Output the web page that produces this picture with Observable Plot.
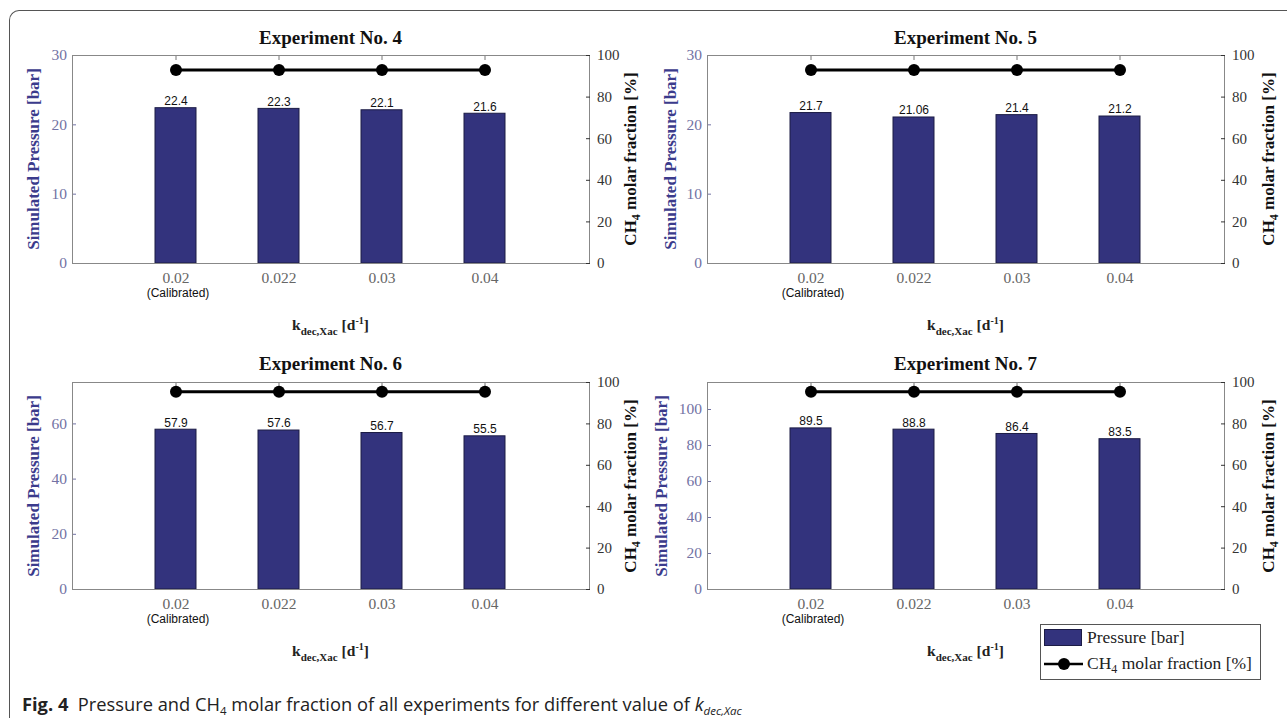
<!DOCTYPE html>
<html><head><meta charset="utf-8">
<script src="https://cdn.jsdelivr.net/npm/d3@7"></script>
<script src="https://cdn.jsdelivr.net/npm/@observablehq/plot@0.6"></script>
<style>
body{margin:0;background:#fff;}
#fig{position:relative;width:1287px;height:718px;overflow:hidden;background:#fff;}
#border{position:absolute;left:9px;top:10px;width:1400px;height:800px;border-top:1.5px solid #555;border-left:1.5px solid #555;border-top-left-radius:10px;}
.panel{position:absolute;width:640px;height:340px;}
.panel svg{position:absolute;left:0;top:0;}
.title{position:absolute;font:bold 19px "Liberation Serif",serif;color:#111;transform:translate(-50%,-50%);white-space:nowrap;line-height:22px;}
.ylab{position:absolute;font:bold 17px "Liberation Serif",serif;white-space:nowrap;transform:translate(-50%,-50%) rotate(-90deg);line-height:20px;}
.ylab.left{color:#3b3b8c;}
.ylab.right{color:#111;}
.xlab{position:absolute;font:bold 15.5px "Liberation Serif",serif;color:#222;white-space:nowrap;transform:translate(-50%,-50%);line-height:20px;}
sub,sup{line-height:0;}
.xlab sub{font-size:11px;vertical-align:-5px;}
.xlab sup{font-size:10px;vertical-align:6px;}
.ylab sub{font-size:12px;vertical-align:-4px;}
#legend{position:absolute;left:1040px;top:624px;width:219px;height:54px;border:1px solid #555;background:#fff;font:17.5px "Liberation Serif",serif;color:#222;}
#legend sub{font-size:12px;vertical-align:-4px;}
#caption{position:absolute;left:22px;top:692px;font:18.3px "Open Sans",sans-serif;color:#222;white-space:nowrap;line-height:24px;}
#caption sub{font-size:11.5px;vertical-align:-4px;}
</style></head>
<body>
<div id="fig"><div id="border"></div></div>
<script>
const categories = ["0.02", "0.022", "0.03", "0.04"];
const notes = ["(Calibrated)", "", "", ""];
const titles = ["Experiment No. 4", "Experiment No. 5", "Experiment No. 6", "Experiment No. 7"];
const pressure4 = [22.4, 22.3, 22.1, 21.6];
const pressure5 = [21.7, 21.06, 21.4, 21.2];
const pressure6 = [57.9, 57.6, 56.7, 55.5];
const pressure7 = [89.5, 88.8, 86.4, 83.5];
const labels4 = ["22.4", "22.3", "22.1", "21.6"];
const labels5 = ["21.7", "21.06", "21.4", "21.2"];
const labels6 = ["57.9", "57.6", "56.7", "55.5"];
const labels7 = ["89.5", "88.8", "86.4", "83.5"];
const ch4_4 = [93, 93, 93, 93];
const ch4_5 = [93, 93, 93, 93];
const ch4_6 = [95.5, 95.5, 95.5, 95.5];
const ch4_7 = [95.5, 95.5, 95.5, 95.5];
const pressureMax = [30, 30, 75, 115];
const pressureTicks4 = [0, 10, 20, 30];
const pressureTicks5 = [0, 10, 20, 30];
const pressureTicks6 = [0, 20, 40, 60];
const pressureTicks7 = [0, 20, 40, 60, 80, 100];
const fractionTicks = [0, 20, 40, 60, 80, 100];

const pressures = [pressure4, pressure5, pressure6, pressure7];
const barLabels = [labels4, labels5, labels6, labels7];
const fractions = [ch4_4, ch4_5, ch4_6, ch4_7];
const pTicks = [pressureTicks4, pressureTicks5, pressureTicks6, pressureTicks7];

const BAR = "#33337d";
const fig = document.getElementById("fig");

const layout = [
  {left: 0, top: 0, mb: 77, ylOff: 38, yrOff: 42, titleY: 38},
  {left: 635, top: 0, mb: 77, ylOff: 36, yrOff: 45, titleY: 38},
  {left: 0, top: 327, mb: 78, ylOff: 38, yrOff: 42, titleY: 37},
  {left: 635, top: 327, mb: 78, ylOff: 45, yrOff: 45, titleY: 37}
];

const ML = 72, MR = 51, MT = 55, W = 640, H = 340;

layout.forEach((L, i) => {
  const rows = categories.map((c, j) => ({cat: c, p: pressures[i][j], f: fractions[i][j], note: notes[j], lab: barLabels[i][j]}));
  const xScale = {type: "band", domain: categories, paddingInner: 0.6, paddingOuter: 0.8};
  const common = {width: W, height: H, marginLeft: ML, marginRight: MR, marginTop: MT, marginBottom: L.mb,
    style: {background: "transparent", overflow: "visible", fontFamily: "Liberation Serif"}};
  const panel = document.createElement("div");
  panel.className = "panel";
  panel.style.left = L.left + "px";
  panel.style.top = L.top + "px";

  const p1 = Plot.plot({...common,
    x: xScale,
    y: {domain: [0, pressureMax[i]]},
    marks: [
      Plot.axisX({anchor: "bottom", tickSize: -4, tickPadding: 12, label: null, color: "#666", fontSize: 15.5, fontFamily: "Liberation Serif"}),
      Plot.axisX({anchor: "top", tickSize: -4, tickFormat: () => "", label: null, color: "#777"}),
      Plot.axisY({anchor: "left", ticks: pTicks[i], tickSize: -4, tickPadding: 9.5, label: null, color: "#7272a4", fontSize: 15.5, fontFamily: "Liberation Serif"}),
      Plot.barY(rows, {x: "cat", y: "p", fill: BAR, stroke: "#1c1c45", strokeWidth: 1}),
      Plot.text(rows, {x: "cat", y: "p", text: "lab", dy: -7, fontSize: 12, fontFamily: "Liberation Sans", fill: "#111"}),
      Plot.text(rows, {x: "cat", text: "note", frameAnchor: "bottom", dx: 2, dy: 33, fontSize: 12, fontFamily: "Liberation Sans", fill: "#111"}),
      Plot.frame({stroke: "#888"})
    ]
  });
  const p2 = Plot.plot({...common,
    x: {...xScale, axis: null},
    y: {domain: [0, 100], axis: null},
    marks: [
      Plot.axisY({anchor: "right", ticks: fractionTicks, tickSize: -4, tickPadding: 11.5, label: null, color: "#333", fontSize: 15, fontFamily: "Liberation Serif"}),
      Plot.line(rows, {x: "cat", y: "f", stroke: "#000", strokeWidth: 3}),
      Plot.dot(rows, {x: "cat", y: "f", r: 6, fill: "#000"})
    ]
  });
  panel.appendChild(p1);
  panel.appendChild(p2);

  const fx0 = ML, fx1 = W - MR, fy0 = MT, fy1 = H - L.mb;
  const cx = (fx0 + fx1) / 2, cy = (fy0 + fy1) / 2;

  const t = document.createElement("div");
  t.className = "title"; t.textContent = titles[i];
  t.style.left = cx + "px"; t.style.top = L.titleY + "px";
  panel.appendChild(t);

  const yl = document.createElement("div");
  yl.className = "ylab left"; yl.textContent = "Simulated Pressure [bar]";
  yl.style.left = (fx0 - L.ylOff) + "px"; yl.style.top = cy + "px";
  panel.appendChild(yl);

  const yr = document.createElement("div");
  yr.className = "ylab right";
  yr.innerHTML = 'CH<sub>4</sub> molar fraction [%]';
  yr.style.left = (fx1 + L.yrOff) + "px"; yr.style.top = cy + "px";
  panel.appendChild(yr);

  const xl = document.createElement("div");
  xl.className = "xlab";
  xl.innerHTML = 'k<sub>dec,Xac</sub> [d<sup>-1</sup>]';
  xl.style.left = cx + "px"; xl.style.top = (fy1 + 62) + "px";
  panel.appendChild(xl);

  fig.appendChild(panel);
});

// legend
const legend = document.createElement("div");
legend.id = "legend";
legend.innerHTML = `
<div style="position:absolute;left:3px;top:4px;width:38px;height:17px;background:${BAR};border:1px solid #1c1c45;box-sizing:border-box;"></div>
<div style="position:absolute;left:46px;top:1px;line-height:22px;">Pressure [bar]</div>
<svg style="position:absolute;left:2px;top:30px;" width="42" height="18"><line x1="1" y1="9" x2="40" y2="9" stroke="#000" stroke-width="2.5"/><circle cx="21" cy="9" r="6" fill="#000"/></svg>
<div style="position:absolute;left:46px;top:27px;line-height:22px;white-space:nowrap;">CH<sub>4</sub> molar fraction [%]</div>`;
fig.appendChild(legend);

const cap = document.createElement("div");
cap.id = "caption";
cap.innerHTML = '<b>Fig. 4</b>&nbsp; Pressure and CH<sub>4</sub> molar fraction of all experiments for different value of <i>k<sub>dec,Xac</sub></i>';
fig.appendChild(cap);
</script>
</body></html>
